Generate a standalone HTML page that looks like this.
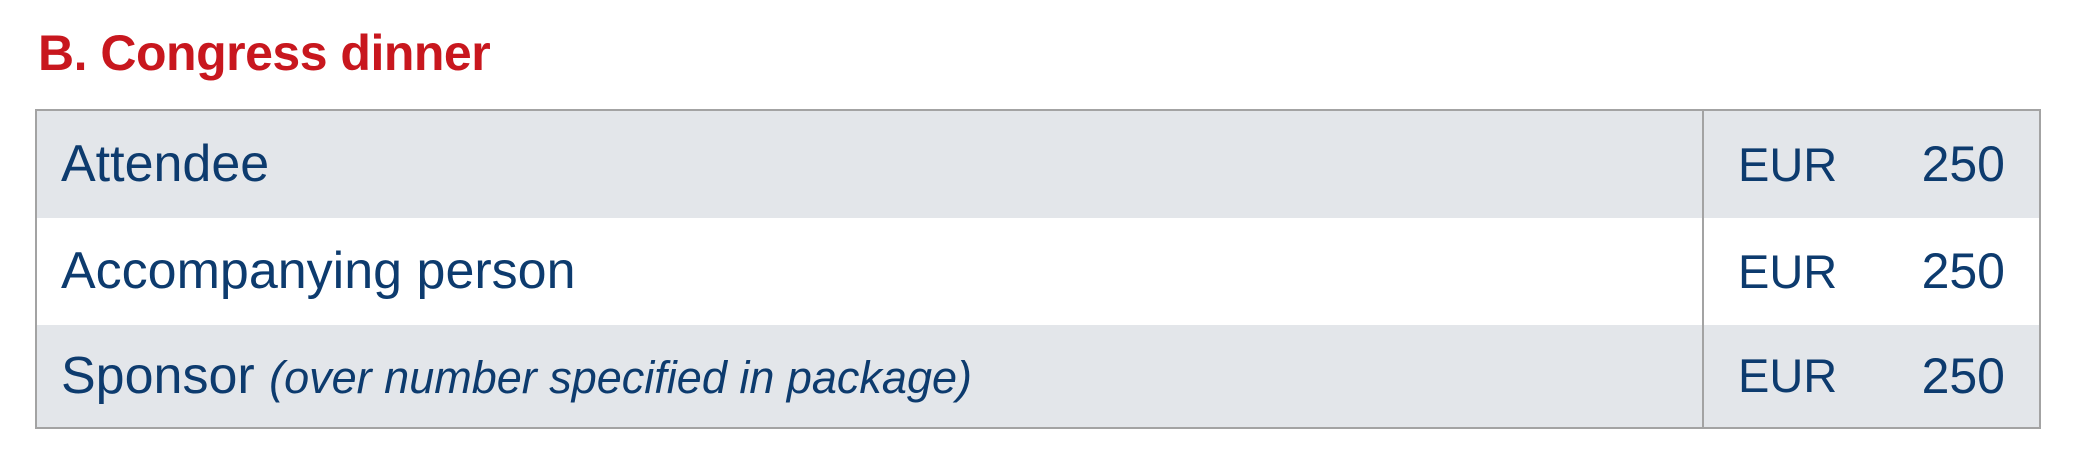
<!DOCTYPE html>
<html><head><style>
body{margin:0;width:2079px;height:468px;background:#fff;position:relative;overflow:hidden;font-family:"Liberation Sans",sans-serif}
h1{position:absolute;left:38px;top:18px;margin:0;font-size:50px;font-weight:bold;color:#c8171e;line-height:70px;letter-spacing:-0.5px}
.tbl{position:absolute;left:35px;top:109px;width:2006px;height:320px;border:2px solid #a3a3a3;box-sizing:border-box}
.row{position:absolute;left:0;width:100%;height:107px}
.g{background:#e3e6ea}
.t{position:absolute;left:24px;top:0;line-height:107px;font-size:52px;color:#0d3b6e;white-space:nowrap}
.eur{position:absolute;left:1701px;line-height:107px;font-size:47px;color:#0d3b6e}
.num{position:absolute;right:34px;line-height:107px;font-size:50px;color:#0d3b6e}
.div{position:absolute;left:1665px;top:0;width:2px;height:100%;background:#a3a3a3}
i{font-size:45px}
</style></head><body>
<h1>B. Congress dinner</h1>
<div class="tbl">
<div class="row g" style="top:0"><span class="t">Attendee</span><span class="eur">EUR</span><span class="num">250</span></div>
<div class="row" style="top:107px"><span class="t">Accompanying person</span><span class="eur">EUR</span><span class="num">250</span></div>
<div class="row g" style="top:214px;height:102px"><span class="t" style="line-height:102px">Sponsor <i>(over number specified in package)</i></span><span class="eur" style="line-height:102px">EUR</span><span class="num" style="line-height:102px">250</span></div>
<div class="div"></div>
</div>
</body></html>
